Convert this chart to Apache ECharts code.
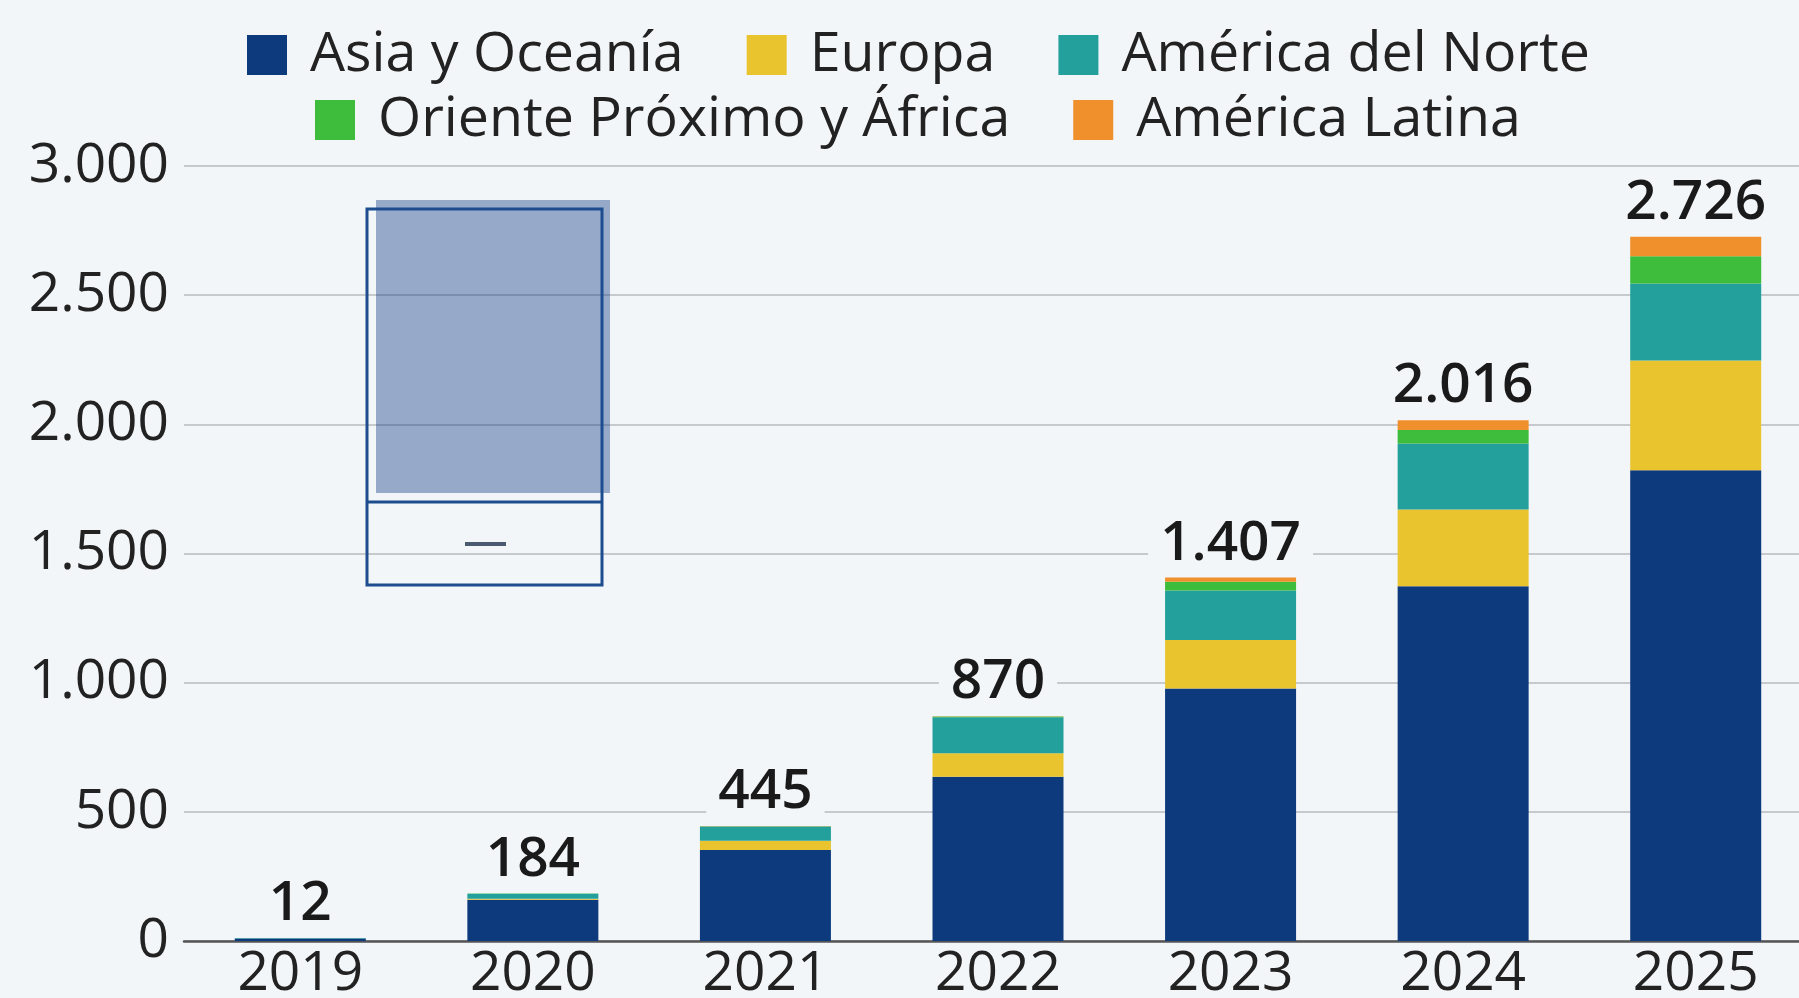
<!DOCTYPE html>
<html>
<head>
<meta charset="utf-8">
<script src="https://cdn.jsdelivr.net/npm/echarts@6/dist/echarts.min.js"></script>
<style>
html,body{margin:0;padding:0;background:#f3f6f9;overflow:hidden;}
#chart{width:1799px;height:998px;}
</style>
</head>
<body>
<div id="chart"></div>
<script>
const categories = ['2019', '2020', '2021', '2022', '2023', '2024', '2025'];
const asiaOceania = [10, 160, 352, 636, 977, 1373, 1822];
const europa = [0, 4, 36, 91, 188, 297, 425];
const americaNorte = [2, 19, 55, 139, 192, 256, 298];
const orienteAfrica = [0, 1, 1, 3, 34, 52, 106];
const americaLatina = [0, 0, 1, 1, 16, 38, 75];
const totals = [12, 184, 445, 870, 1407, 2016, 2726];
const yTicks = [0, 500, 1000, 1500, 2000, 2500, 3000];

const seriesNames = ['Asia y Oceanía', 'Europa', 'América del Norte', 'Oriente Próximo y África', 'América Latina'];
const seriesColors = ['#0d3a7d', '#e9c42e', '#23a09b', '#3dbd3b', '#f0902c'];
const seriesData = [asiaOceania, europa, americaNorte, orienteAfrica, americaLatina];

const FONT = '"Open Sans", "Noto Sans", sans-serif';
const BG = '#f3f6f9';
function fmt(v) { return String(v).replace(/\B(?=(\d{3})+(?!\d))/g, '.'); }

const chart = echarts.init(document.getElementById('chart'), null, {renderer: 'canvas'});

const legendCommon = {
  orient: 'horizontal',
  padding: 0,
  itemWidth: 40,
  itemHeight: 40,
  itemGap: 63,
  icon: 'rect',
  selectedMode: false,
  textStyle: {fontFamily: FONT, fontSize: 55.5, color: '#222', padding: [0, 0, 0, 18]}
};

const series = seriesNames.map((name, i) => ({
  name: name,
  type: 'bar',
  stack: 'total',
  barWidth: 131,
  barGap: '-100%',
  data: seriesData[i],
  itemStyle: {color: seriesColors[i]},
  emphasis: {disabled: true}
}));

series.push({
  name: 'Total',
  type: 'bar',
  barWidth: 131,
  barGap: '-100%',
  data: totals,
  silent: true,
  z: 1,
  itemStyle: {color: 'rgba(0,0,0,0)'},
  label: {
    show: true,
    position: 'top',
    distance: 6,
    formatter: p => fmt(p.value),
    fontFamily: FONT,
    fontSize: 55,
    fontWeight: 600,
    color: '#1a1a1a',
    backgroundColor: BG,
    padding: [0, 12]
  },
  emphasis: {disabled: true}
});

const option = {
  backgroundColor: BG,
  animation: false,
  legend: [
    Object.assign({}, legendCommon, {data: seriesNames.slice(0, 3), left: 247, top: 27}),
    Object.assign({}, legendCommon, {data: seriesNames.slice(3), left: 315, top: 92})
  ],
  grid: {left: 184, top: 166, width: 1628, height: 775, containLabel: false, outerBoundsMode: 'none'},
  xAxis: {
    type: 'category',
    data: categories,
    axisTick: {show: false},
    axisLine: {show: true, lineStyle: {color: '#555', width: 2.5}},
    axisLabel: {fontFamily: FONT, fontSize: 55, color: '#222', margin: 6}
  },
  yAxis: {
    type: 'value',
    min: yTicks[0],
    max: yTicks[yTicks.length - 1],
    interval: 500,
    axisLine: {show: false},
    axisTick: {show: false},
    splitLine: {lineStyle: {color: '#c6c9cd', width: 2}},
    axisLabel: {fontFamily: FONT, fontSize: 55, color: '#222', margin: 15, formatter: v => fmt(v)}
  },
  series: series,
  graphic: [
    {type: 'rect', shape: {x: 376, y: 200, width: 234, height: 293}, style: {fill: 'rgba(13,56,128,0.4)'}, z: 100},
    {type: 'rect', shape: {x: 367, y: 209, width: 235, height: 376}, style: {fill: 'none', stroke: '#1d4d8f', lineWidth: 3}, z: 101},
    {type: 'line', shape: {x1: 367, y1: 502, x2: 602, y2: 502}, style: {stroke: '#1d4d8f', lineWidth: 3}, z: 101},
    {type: 'line', shape: {x1: 465, y1: 544, x2: 506, y2: 544}, style: {stroke: '#4a5a70', lineWidth: 4}, z: 101}
  ]
};

chart.setOption(option);
</script>
</body>
</html>
